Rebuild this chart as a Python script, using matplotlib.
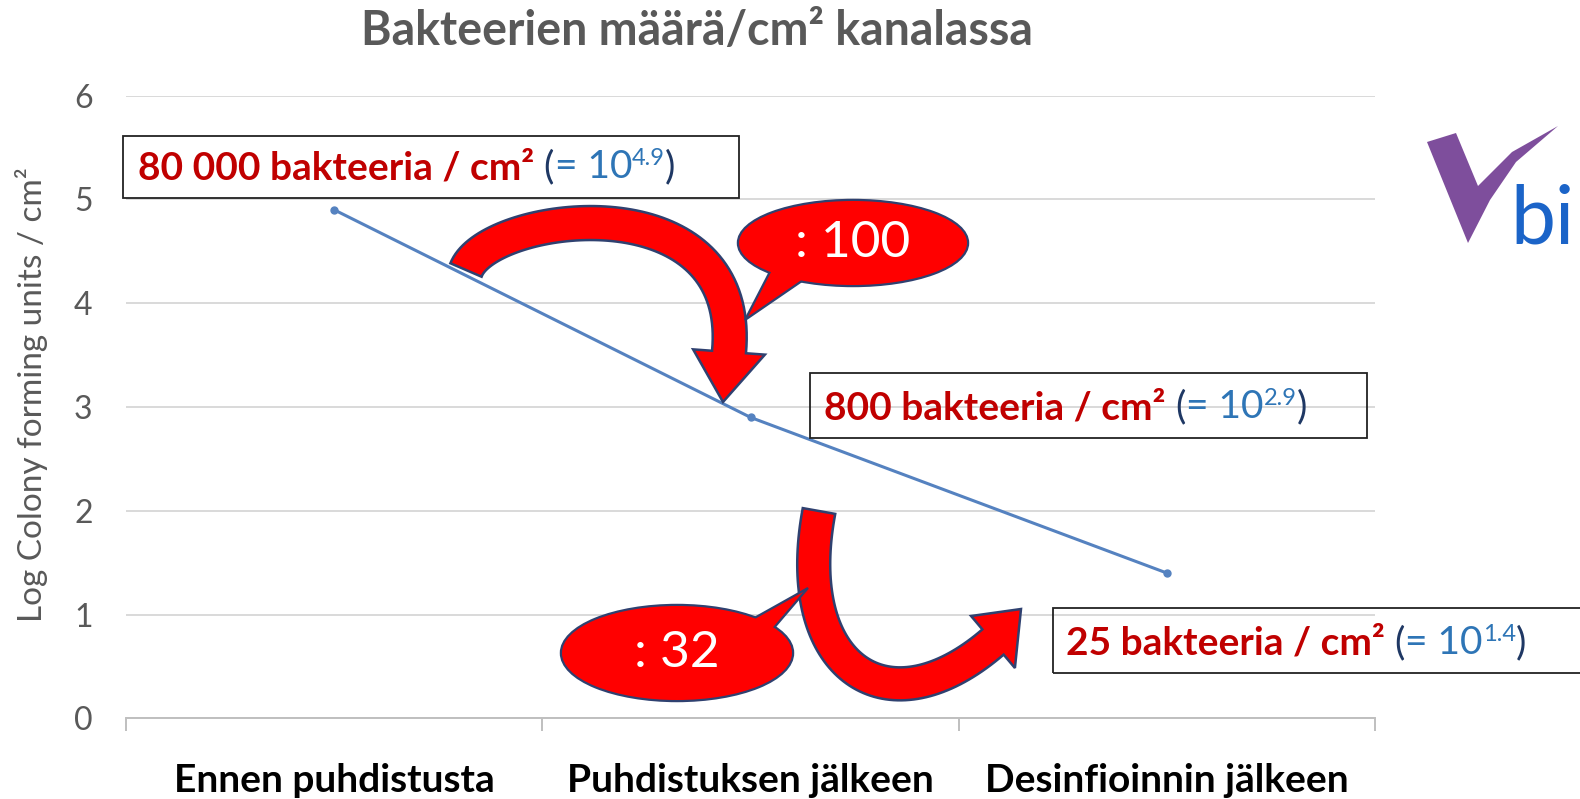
import matplotlib
matplotlib.use("Agg")
import numpy as np
import matplotlib.pyplot as plt
from matplotlib.patches import Rectangle, Ellipse, Polygon
from matplotlib.transforms import Affine2D

plt.rcParams['font.family'] = ['Lato', 'DejaVu Sans']

# data
categories = ['Ennen puhdistusta', 'Puhdistuksen jälkeen', 'Desinfioinnin jälkeen']
log_cfu = [4.9, 2.9, 1.4]
counts = ['80 000', '800', '25']
exponents = ['4.9', '2.9', '1.4']
reductions = [': 100', ': 32']

GREY = '#595959'
RED_TXT = '#c00000'
NAVY = '#1f3864'
BLUE = '#2e75b6'
LINE = '#5582c0'
ARROW_RED = '#ff0000'
ARROW_EDGE = '#2f4170'

W, H = 1580, 799
fig = plt.figure(figsize=(W / 100, H / 100), dpi=100)
ax = fig.add_axes([0.0797, 0.1008, 0.7908, 0.7795])
# figure pixel coordinates, origin top-left (for the drawn-on decorations)
pix = Affine2D().scale(1 / W, -1 / H).translate(0, 1) + fig.transFigure

x = list(range(len(categories)))
ax.plot(x, log_cfu, color=LINE, lw=2.2, marker='o', ms=5, zorder=3)

ax.set_xlim(-0.5, 2.5)
ax.set_ylim(0, 6)
ax.set_yticks(range(0, 7))
ax.yaxis.grid(True, color='#d9d9d9', lw=1.4)
ax.set_axisbelow(True)
for s in ['top', 'right', 'left']:
    ax.spines[s].set_visible(False)
ax.spines['bottom'].set_color('#bfbfbf')
ax.spines['bottom'].set_linewidth(1.4)
ax.tick_params(axis='y', length=0, labelsize=23, labelcolor=GREY, pad=24)
ax.set_xticks(x)
ax.set_xticklabels(categories, fontsize=28, fontweight='bold', color='black')
ax.tick_params(axis='x', length=0, pad=32)
ax.set_xticks([-0.5, 0.5, 1.5, 2.5], minor=True)
ax.tick_params(axis='x', which='minor', length=9, color='#bfbfbf', width=1.4)
ax.set_ylabel('Log Colony forming units / cm²', fontsize=24, color=GREY)
ax.yaxis.set_label_coords(-0.062, 0.52)

fig.text(697 / W, 1 - 31 / H, 'Bakteerien määrä/cm² kanalassa', ha='center', va='center',
         fontsize=33.5, fontweight='bold', color=GREY)


def label_box(x0, y0, w, h, tx, ty, count, exp):
    ax.add_patch(Rectangle((x0, y0), w, h, fill=False, ec='#222222', lw=1.3,
                           clip_on=False, zorder=4))
    t = ax.text(tx, ty, f'{count} bakteeria / cm²', color=RED_TXT, fontsize=28,
                fontweight='bold', va='baseline', zorder=5, clip_on=False)
    t = ax.annotate(' (', xy=(1, 0), xycoords=t, va='bottom', fontsize=28,
                    color=NAVY, annotation_clip=False, zorder=5)
    eq = ax.annotate('= 10', xy=(1, 0), xycoords=t, va='bottom', fontsize=28,
                     color=BLUE, annotation_clip=False, zorder=5)
    sup = ax.annotate(exp, xy=(1, 0.45), xycoords=eq, va='bottom', fontsize=17,
                      color=BLUE, annotation_clip=False, zorder=5)
    ax.annotate(')', xy=(1, 0), xycoords=(sup, eq), va='bottom', fontsize=28,
                color=NAVY, annotation_clip=False, zorder=5)


label_box(-0.507, 5.01, 1.478, 0.602, -0.471, 5.194, counts[0], exponents[0])
label_box(1.143, 2.699, 1.338, 0.631, 1.177, 2.883, counts[1], exponents[1])
label_box(1.726, 0.437, 1.4, 0.631, 1.757, 0.612, counts[2], exponents[2])


def block_arrow(ctrl, tip, half_w=16.5, head_half=36):
    # thick curved arrow along a cubic bezier (pixel coords), head from last point to tip
    p = np.array(ctrl, float)
    t = np.linspace(0, 1, 80)[:, None]
    pts = ((1 - t) ** 3 * p[0] + 3 * (1 - t) ** 2 * t * p[1]
           + 3 * (1 - t) * t ** 2 * p[2] + t ** 3 * p[3])
    d = np.gradient(pts, axis=0)
    d /= np.linalg.norm(d, axis=1)[:, None]
    nrm = np.column_stack([-d[:, 1], d[:, 0]])
    left = pts + nrm * half_w
    right = pts - nrm * half_w
    hl = pts[-1] + nrm[-1] * head_half
    hr = pts[-1] - nrm[-1] * head_half
    outline = np.vstack([left, [hl], [tip], [hr], right[::-1]])
    fig.add_artist(Polygon(outline, closed=True, fc=ARROW_RED, ec=ARROW_EDGE, lw=1.8,
                           transform=pix, zorder=6))


block_arrow([(466, 270), (488, 212), (745, 178), (729, 352)], (723, 402), half_w=17)
block_arrow([(819, 511), (790, 665), (885, 735), (993, 642)], (1021, 609), head_half=34)


def bubble(cx, cy, w, h, tail, text, size):
    fig.add_artist(Ellipse((cx, cy), w, h, fc=ARROW_RED, ec=ARROW_EDGE, lw=3.2,
                           transform=pix, zorder=7))
    fig.add_artist(Polygon(tail, closed=True, fc=ARROW_RED, ec=ARROW_EDGE, lw=1.6,
                           transform=pix, zorder=7))
    fig.add_artist(Ellipse((cx, cy), w, h, fc=ARROW_RED, ec='none',
                           transform=pix, zorder=7))
    fig.text(cx / W, 1 - cy / H, text, color='white', fontsize=size, ha='center',
             va='center', zorder=8)


bubble(853, 243, 228, 84, [(775, 262), (815, 272), (745, 320)], reductions[0], 37)
bubble(677, 653, 230, 94, [(733, 630), (767, 636), (808, 588)], reductions[1], 37)

# logo at top right, cut off by the figure edge
check = [(1427, 142), (1456, 133), (1478, 186), (1512, 152), (1558, 126),
         (1516, 162), (1490, 200), (1468, 243)]
fig.add_artist(Polygon(check, closed=True, transform=pix, fc='#7e4e9c', ec='none'))
fig.text(1510 / W, 1 - 244 / H, 'bi', color='#1b64c8', fontsize=58,
         va='baseline', ha='left')

fig.savefig('out.png', dpi=100)
